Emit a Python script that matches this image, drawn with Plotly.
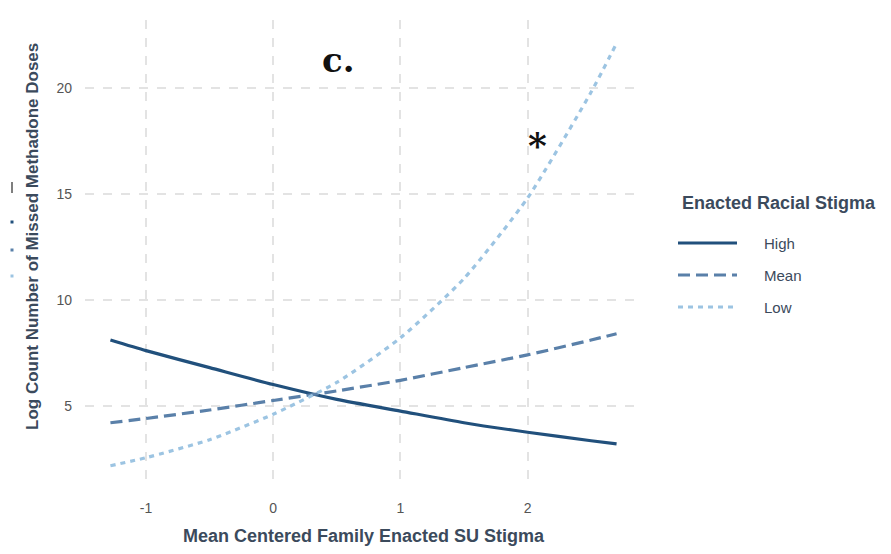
import plotly.graph_objects as go

# Predicted log counts across family enacted SU stigma, by racial stigma level
x_vals = [-1.28, -1.0, -0.5, 0.0, 0.5, 1.0, 1.5, 2.0, 2.5, 2.70]
high_vals = [8.1, 7.6, 6.8, 6.0, 5.3, 4.75, 4.2, 3.75, 3.35, 3.2]
mean_vals = [4.2, 4.4, 4.8, 5.25, 5.7, 6.2, 6.8, 7.4, 8.1, 8.4]
low_vals = [2.17, 2.55, 3.4, 4.6, 6.1, 8.2, 11.0, 14.8, 19.8, 22.1]

series_names = ["High", "Mean", "Low"]
series_colors = ["#21507c", "#5a80a9", "#9cc4e2"]
series_dash = ["solid", "12px,6px", "5px,5px"]

x_ticks = [-1, 0, 1, 2]
x_ticktext = ["-1", "0", "1", "2"]
y_ticks = [5, 10, 15, 20]

W, H = 891, 554
L, R, T, B = 85, 249, 20, 66
PW, PH = W - L - R, H - T - B


def px(xp):
    return (xp - L) / PW


def py(yp):
    return (H - B - yp) / PH


fig = go.Figure()
for name, vals, col, dash in zip(series_names, [high_vals, mean_vals, low_vals],
                                 series_colors, series_dash):
    fig.add_trace(go.Scatter(
        x=x_vals, y=vals, mode="lines", name=name,
        line=dict(color=col, width=3.2, dash=dash, shape="spline", smoothing=0.6),
        showlegend=False,
    ))

grid = dict(showgrid=True, gridcolor="#e3e3e3", gridwidth=1.5, griddash="dash",
            zeroline=False, showline=False, ticks="")
title_color = "#3b4a5c"

fig.update_xaxes(range=[-1.48, 2.90], tickvals=x_ticks, ticktext=x_ticktext,
                 tickfont=dict(family="Liberation Sans", size=14, color="#555555"),
                 title=dict(text="<b>Mean Centered Family Enacted SU Stigma</b>",
                            font=dict(family="Liberation Sans", size=18, color=title_color),
                            standoff=14),
                 ticklabelstandoff=10, **grid)
fig.update_yaxes(range=[1.12, 23.2], tickvals=y_ticks,
                 tickfont=dict(family="Liberation Sans", size=14, color="#555555"),
                 ticklabelstandoff=12, **grid)

annotations = [
    dict(x=px(32), y=py(237), xref="paper", yref="paper", textangle=-90,
         text="<b>Log Count Number of Missed Methadone Doses</b>", showarrow=False,
         xanchor="center", yanchor="middle",
         font=dict(family="Liberation Sans", size=17, color=title_color)),
    dict(x=0.51, y=21.3, xref="x", yref="y", text="<b>c.</b>", showarrow=False,
         font=dict(family="DejaVu Serif", size=34, color="#111111")),
    dict(x=2.08, y=17.3, xref="x", yref="y", text="<b>*</b>", showarrow=False,
         font=dict(family="DejaVu Serif", size=36, color="#111111")),
    dict(x=px(680), y=py(203), xref="paper", yref="paper", xanchor="left",
         yanchor="middle", text="<b>Enacted Racial Stigma</b>", showarrow=False,
         font=dict(family="Liberation Sans", size=18, color=title_color)),
]
shapes = []
for i, (name, col, dash) in enumerate(zip(series_names, series_colors, series_dash)):
    yy = 243 + 32 * i
    shapes.append(dict(type="line", xref="paper", yref="paper",
                       x0=px(678), x1=px(737), y0=py(yy), y1=py(yy),
                       line=dict(color=col, width=3, dash=dash)))
    annotations.append(dict(x=px(762), y=py(yy), xref="paper", yref="paper",
                            xanchor="left", yanchor="middle", text=name,
                            showarrow=False,
                            font=dict(family="Liberation Sans", size=15, color=title_color)))

# small rotated key marks at the far left edge
shapes.append(dict(type="line", xref="paper", yref="paper", x0=px(12), x1=px(12),
                   y0=py(182), y1=py(193), line=dict(color="#555555", width=1.5)))
for yy, col in zip([222, 250, 276], series_colors):
    shapes.append(dict(type="rect", xref="paper", yref="paper",
                       x0=px(10.5), x1=px(13.5), y0=py(yy + 1.5), y1=py(yy - 1.5),
                       line=dict(width=0), fillcolor=col))

fig.update_layout(
    width=W, height=H, margin=dict(l=L, r=R, t=T, b=B),
    paper_bgcolor="white", plot_bgcolor="white",
    annotations=annotations, shapes=shapes, showlegend=False,
)

fig.write_html("out.html")
